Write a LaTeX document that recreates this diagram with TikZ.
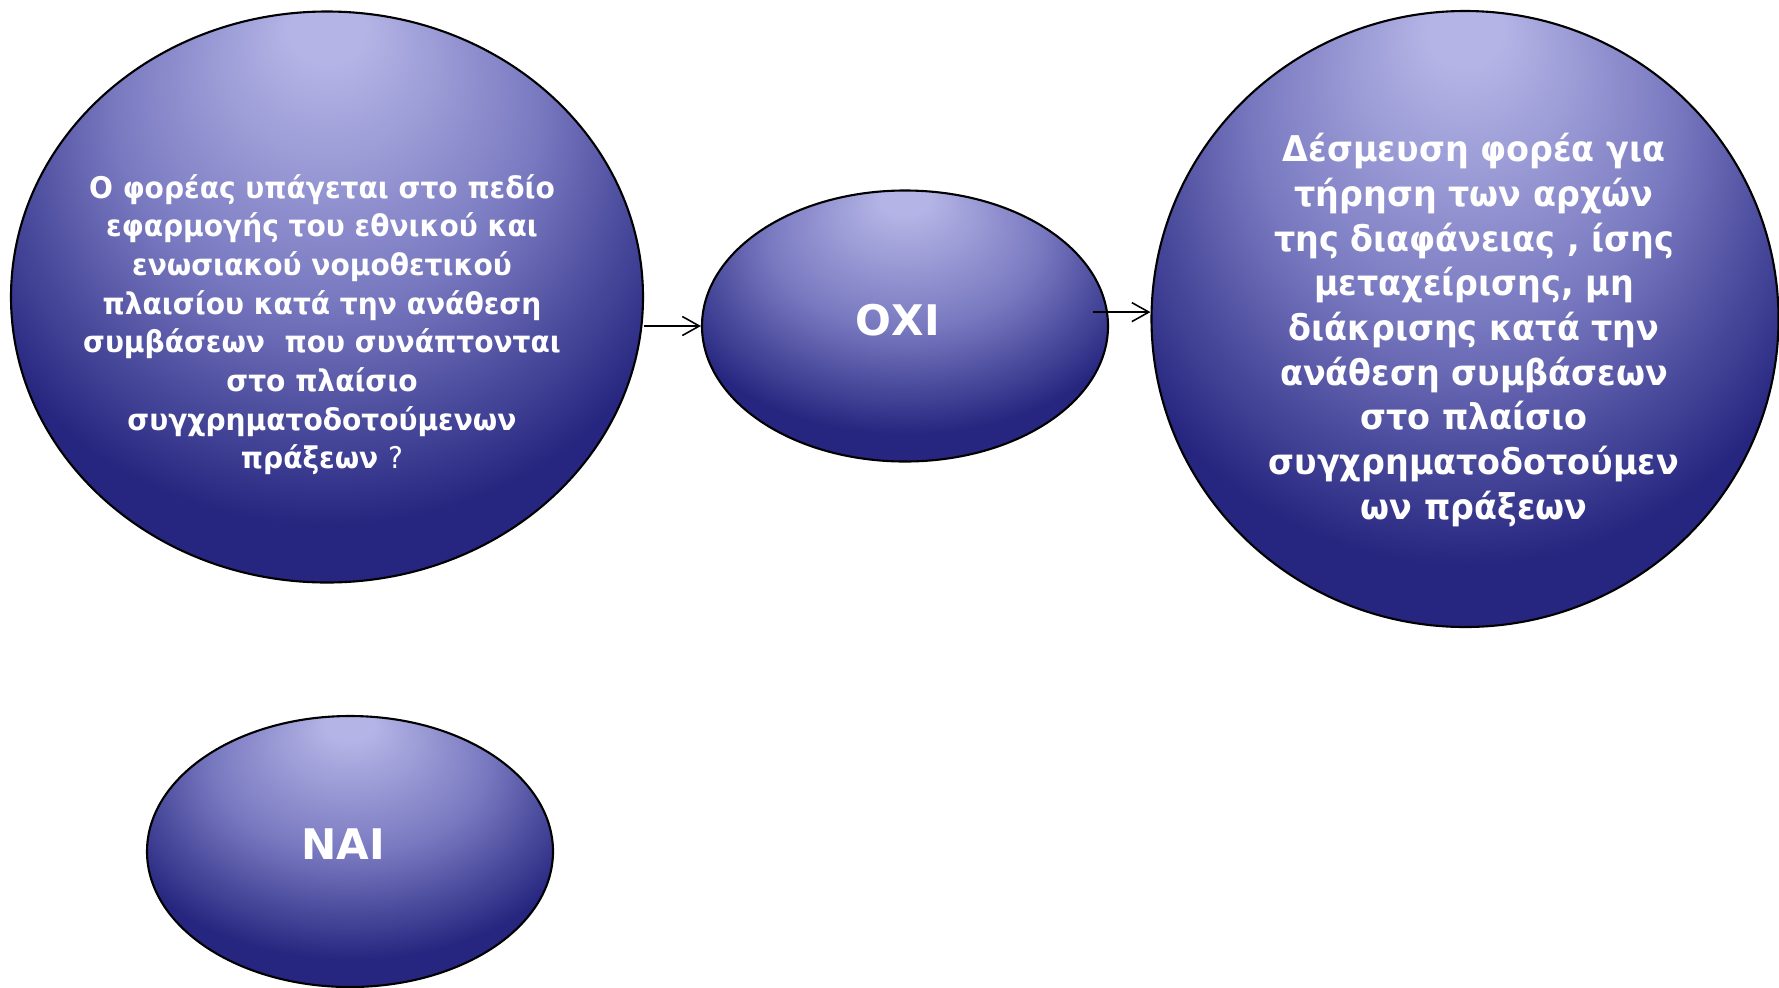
\documentclass[tikz,border=0pt]{standalone}
\usepackage{fontspec}
\setmainfont{DejaVu Sans}
\newfontfamily\orbfont[FakeStretch=0.94]{DejaVu Sans}
\usepackage{tikz}
\usetikzlibrary{shapes.geometric,arrows.meta,positioning}
\definecolor{orblite}{RGB}{180,180,230}
\definecolor{orbmid}{RGB}{120,120,192}
\definecolor{orbdark}{RGB}{38,38,128}
\pgfdeclareradialshading{orb}{\pgfpoint{0bp}{25bp}}{color(0bp)=(orblite); color(3bp)=(orblite); color(17bp)=(orbmid); color(30bp)=(orbdark); color(50bp)=(orbdark)}
\tikzstyle{blob} = [ellipse, draw, line width=0.6pt, shading=orb, inner sep=0pt]
\tikzstyle{blobtext} = [align=center, text=white, font=\bfseries, inner sep=0pt]
\tikzstyle{line} = [draw, line width=0.45pt, -{Straight Barb[length=1.7mm,width=1.9mm]}]

\begin{document}
\begin{tikzpicture}
      \useasboundingbox (0,0) rectangle (17.79,-9.87);

      \node [blob,minimum width=6.32cm,minimum height=5.71cm] (lq) at (3.27,-2.97) {};
      \node [blob,minimum width=4.06cm,minimum height=2.71cm] (oxi) at (9.05,-3.26) {};
      \node [blob,minimum width=6.27cm,minimum height=6.16cm] (des) at (14.65,-3.19) {};
      \node [blob,minimum width=4.06cm,minimum height=2.71cm] (nai) at (3.50,-8.515) {};

      \node [blobtext,font=\orbfont\bfseries\fontsize{8.5}{11}\selectfont] (lqtxt) at (3.22,-3.245)
        {Ο φορέας υπάγεται στο πεδίο\\ εφαρμογής του εθνικού και\\ ενωσιακού νομοθετικού\\
         πλαισίου κατά την ανάθεση\\ συμβάσεων~ που συνάπτονται\\ στο πλαίσιο\\
         συγχρηματοδοτούμενων\\ πράξεων {\mdseries ?}};
      \node [blobtext,font=\bfseries\fontsize{12}{14}\selectfont] (oxitxt) at (8.98,-3.20) {ΟΧΙ};
      \node [blobtext,font=\orbfont\bfseries\fontsize{10.1}{12.7}\selectfont] (destxt) at (14.74,-3.30)
        {Δέσμευση φορέα για\\ τήρηση των αρχών\\ της διαφάνειας , ίσης\\ μεταχείρισης, μη\\
         διάκρισης κατά την\\ ανάθεση συμβάσεων\\ στο πλαίσιο\\ συγχρηματοδοτούμεν\\ ων πράξεων};
      \node [blobtext,font=\bfseries\fontsize{12}{14}\selectfont] (naitxt) at (3.43,-8.44) {ΝΑΙ};

      \coordinate (oxiout) at ([xshift=-1.57mm,yshift=1.39mm]oxi.east);
      \path [line] (lq.east |- oxi.west) -- (oxi.west);
      \path [line] (oxiout) -- (oxiout -| des.west);
\end{tikzpicture}
\end{document}
